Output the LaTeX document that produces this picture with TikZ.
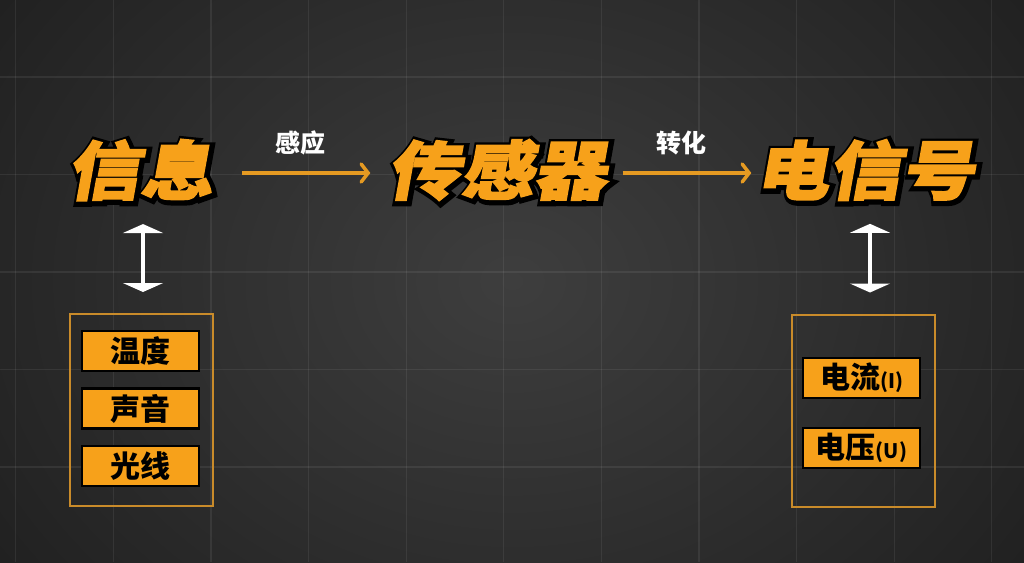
\documentclass[tikz,border=0pt]{standalone}
\usepackage{fontspec}
\usetikzlibrary{arrows.meta}
\newfontfamily\cjk{Noto Sans CJK SC}
\newfontfamily\cjkfront{Noto Sans CJK SC}[BoldFeatures={FakeSlant=0.18,FakeBold=2.2,FakeStretch=1.14}]
\newfontfamily\cjkback{Noto Sans CJK SC}[BoldFeatures={FakeSlant=0.18,FakeBold=14,FakeStretch=1.14}]
\definecolor{bgin}{HTML}{3E3E3E}
\definecolor{bgout}{HTML}{1F1F1F}
\definecolor{accent}{HTML}{F7A11A}
\definecolor{arrowc}{HTML}{E59A22}
\definecolor{frame}{HTML}{C98B2A}
\tikzset{
  titleback/.style={inner sep=0pt, text=black, font=\cjkback\bfseries\fontsize{64}{64}\selectfont},
  titlefront/.style={inner sep=0pt, text=accent, font=\cjkfront\bfseries\fontsize{64}{64}\selectfont},
  flow/.style={draw=arrowc, line width=3.5pt, -{Straight Barb[length=7pt,width=18pt,line cap=round]}},
  flowlabel/.style={text=white, font=\cjk\bfseries\fontsize{25}{25}\selectfont, inner sep=0pt},
  dbl/.style={draw=white, line width=4pt, {Triangle[width=40pt,length=9pt]}-{Triangle[width=40pt,length=9pt]}},
  container/.style={draw=frame, line width=2pt, minimum width=143pt, minimum height=192pt, inner sep=0pt},
  item/.style={draw=black, fill=accent, line width=2.5pt, minimum width=117pt, minimum height=40pt, inner sep=0pt, text=black, font=\cjk\bfseries\fontsize{30}{30}\selectfont},
}
\begin{document}
\begin{tikzpicture}[x=1pt,y=-1pt]
\useasboundingbox (0,0) rectangle (1024,562);
\shade[inner color=bgin, outer color=bgout] (-150,-250) rectangle (1174,812);
% grid
\foreach \gx in {15.7,113.3,210.9,308.5,406.1,503.7,601.3,698.9,796.5,894.1,991.7}
  \draw[white, opacity=0.07, line width=1.2pt] (\gx,0) -- (\gx,562);
\foreach \gy in {77,174.5,272,369.5,467}
  \draw[white, opacity=0.07, line width=1.2pt] (0,\gy) -- (1024,\gy);
% titles
\node[titleback] (infob) at (141.5,171.5) {信息};
\node[titlefront] (info) at (140,170) {信息};
\node[titleback] (sensorb) at (498.5,171.5) {传感器};
\node[titlefront] (sensor) at (497,170) {传感器};
\node[titleback] (signalb) at (866.5,171.5) {电信号};
\node[titlefront] (signal) at (865,170) {电信号};
% containers
\node[container] (lbox) at (141.5,410) {};
\node[container] (rbox) at (863,410.5) {};
% flow arrows
\draw[flow, shorten <=29pt, shorten >=17pt] ([yshift=-3pt]info.east) -- ([yshift=-3pt]sensor.west)
  node[flowlabel, midway, above=16pt] (lab1) {感应};
\draw[flow, shorten <=16pt, shorten >=4pt] ([yshift=-3pt]sensor.east) -- ([yshift=-3pt]signal.west)
  node[flowlabel, midway, above=16pt] (lab2) {转化};
% double arrows
\draw[dbl, shorten <=23pt, shorten >=21pt] ([xshift=1.5pt]lbox.north |- info.south) -- ([xshift=1.5pt]lbox.north);
\draw[dbl, shorten <=23pt, shorten >=21pt] ([xshift=7pt]rbox.north |- signal.south) -- ([xshift=7pt]rbox.north);
% items
\node[item] (temp) at (140.5,351) {温度};
\node[item] (sound) at (140.5,408.5) {声音};
\node[item] (light) at (140.5,466) {光线};
\node[item] (cur) at (861.5,378) {电流{\fontsize{20}{20}\selectfont(I)}};
\node[item] (volt) at (861.5,448) {电压{\fontsize{20}{20}\selectfont(U)}};
\end{tikzpicture}
\end{document}
